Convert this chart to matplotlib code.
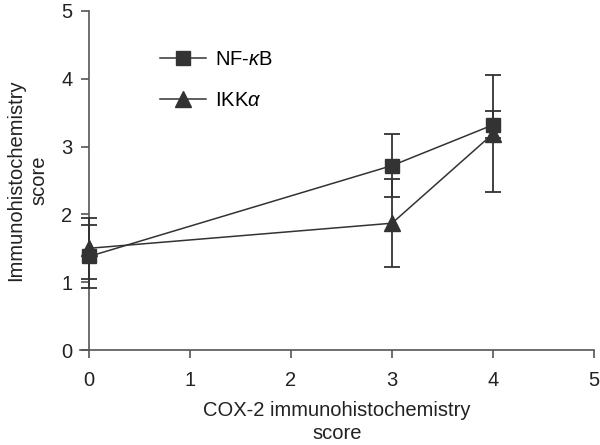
import matplotlib
matplotlib.use('Agg')
import matplotlib.pyplot as plt

plt.rcParams.update({
    'font.family': ['Liberation Sans', 'DejaVu Sans'],
    'font.size': 14.5,
    'mathtext.fontset': 'custom',
    'mathtext.rm': 'Liberation Sans',
    'mathtext.it': 'Liberation Sans:italic',
})

# datos
cox2 = [0, 3, 4]
nfkb = [1.38, 2.72, 3.32]
nfkb_err = [0.47, 0.46, 0.20]
ikka = [1.50, 1.87, 3.19]
ikka_err = [0.45, 0.65, 0.86]

color = '#333333'
fig = plt.figure(figsize=(6, 4.45), dpi=100)
ax = fig.add_axes([80 / 600, 1 - 350 / 445, 514 / 600, 339 / 445])

ax.errorbar(cox2, nfkb, yerr=nfkb_err, color=color, marker='s', markersize=10.5,
            linewidth=1.1, elinewidth=1.3, capsize=5.5, capthick=1.3,
            label=r'NF-$\kappa$B', zorder=3)
ax.errorbar(cox2, ikka, yerr=ikka_err, color=color, marker='^', markersize=11,
            linewidth=1.1, elinewidth=1.3, capsize=5.5, capthick=1.3,
            label=r'IKK$\alpha$', zorder=3)

ax.set_xlim(-0.09, 5)
ax.set_ylim(0, 5)
ax.set_xticks(range(6))
ax.set_yticks(range(6))
ax.spines['top'].set_visible(False)
ax.spines['right'].set_visible(False)
ax.spines['left'].set_position(('data', 0))
for s in ('left', 'bottom'):
    ax.spines[s].set_color('#555555')
    ax.spines[s].set_linewidth(1.2)
ax.tick_params(direction='out', length=6, width=1.2, color='#555555',
               labelsize=14.5, labelcolor='#222222')
ax.tick_params(axis='x', pad=9)
ax.tick_params(axis='y', pad=6)

ax.set_xlabel('COX-2 immunohistochemistry\nscore', labelpad=8, color='#222222',
              linespacing=1.3)
ax.set_ylabel('Immunohistochemistry\nscore', labelpad=9, color='#222222',
              linespacing=1.3)

handles, labels = ax.get_legend_handles_labels()
handles = [h[0] for h in handles]
fig.legend(handles, labels, loc='center left',
           bbox_to_anchor=(150 / 600, 1 - 80 / 445), frameon=False,
           borderpad=0, handlelength=2.3, handletextpad=0.45, labelspacing=1.05,
           fontsize=14.5)

plt.savefig('out.png', dpi=100)
